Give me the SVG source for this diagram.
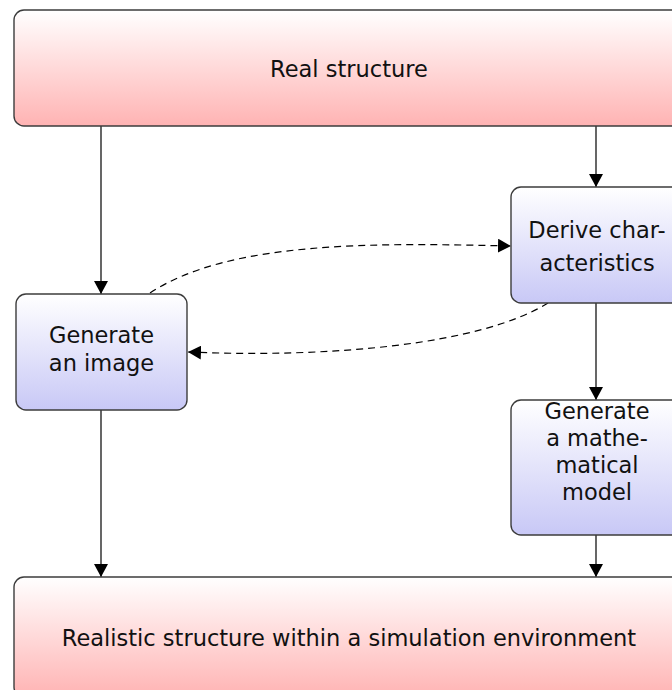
<svg xmlns="http://www.w3.org/2000/svg" width="672" height="690" viewBox="0 0 672 690">
  <defs>
    <linearGradient id="gradPink" x1="0" y1="0" x2="0" y2="1">
      <stop offset="0" stop-color="#ffffff"/>
      <stop offset="1" stop-color="#ffb3b3"/>
    </linearGradient>
    <linearGradient id="gradBlue" x1="0" y1="0" x2="0" y2="1">
      <stop offset="0" stop-color="#ffffff"/>
      <stop offset="1" stop-color="#c8c8f6"/>
    </linearGradient>
    <marker id="arrow" viewBox="0 0 13 14" refX="13" refY="7" markerWidth="13" markerHeight="14" markerUnits="userSpaceOnUse" orient="auto">
      <path d="M0,0 L13,7 L0,14 Z" fill="#000"/>
    </marker>
  </defs>
  <style>
    .box { stroke: #3c3c3c; stroke-width: 1.4; }
    .pink { fill: url(#gradPink); }
    .blue { fill: url(#gradBlue); }
    .label { font-family: "DejaVu Sans", "Liberation Sans", sans-serif; font-size: 22.5px; fill: #111; text-anchor: middle; }
    .conn { fill: none; stroke: #000; stroke-width: 1.2; marker-end: url(#arrow); }
    .dash { stroke-dasharray: 7 5; }
  </style>

  <g id="connectors">
    <path class="conn" d="M101,126 V294"/>
    <path class="conn" d="M596,126 V187"/>
    <path class="conn" d="M596,303 V400"/>
    <path class="conn" d="M596,535 V577"/>
    <path class="conn" d="M101,410 V577"/>
    <path class="conn dash" d="M150,293 C230,240 380,243 511,246"/>
    <path class="conn dash" d="M548,303 C480,345 330,358 188,352"/>
  </g>

  <g id="real-structure">
    <rect class="box pink" x="14" y="10" width="670" height="116" rx="10"/>
    <text class="label" x="349" y="77">Real structure</text>
  </g>

  <g id="derive-characteristics">
    <rect class="box blue" x="511" y="187" width="172" height="116" rx="10"/>
    <text class="label" x="597" y="238">Derive char-</text>
    <text class="label" x="597" y="270.5">acteristics</text>
  </g>

  <g id="generate-image">
    <rect class="box blue" x="16" y="294" width="171" height="116" rx="10"/>
    <text class="label" x="101.5" y="343">Generate</text>
    <text class="label" x="101.5" y="370.5">an image</text>
  </g>

  <g id="mathematical-model">
    <rect class="box blue" x="511" y="400" width="172" height="135" rx="10"/>
    <text class="label" x="597" y="419">Generate</text>
    <text class="label" x="597" y="446">a mathe-</text>
    <text class="label" x="597" y="473">matical</text>
    <text class="label" x="597" y="500">model</text>
  </g>

  <g id="simulation-environment">
    <rect class="box pink" x="14" y="577" width="670" height="120" rx="10"/>
    <text class="label" x="349" y="646">Realistic structure within a simulation environment</text>
  </g>
</svg>
